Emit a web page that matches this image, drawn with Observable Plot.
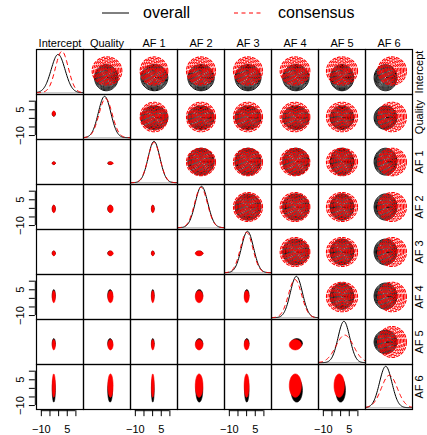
<!DOCTYPE html>
<html><head><meta charset="utf-8">
<script src="https://cdn.jsdelivr.net/npm/d3@7"></script>
<script src="https://cdn.jsdelivr.net/npm/@observablehq/plot@0.6"></script>
<style>
html,body{margin:0;padding:0;background:#fff;}
#legend{height:26px;}
#legend svg{display:block;}
#chart svg{display:block;}
</style></head><body>
<div id="legend"><svg width="427" height="26" font-family="Liberation Sans, Arial, Helvetica, sans-serif">
<line x1="102" x2="129" y1="13" y2="13" stroke="black" stroke-width="1"/>
<text x="143" y="18" font-size="16">overall</text>
<line x1="234" x2="263" y1="13" y2="13" stroke="red" stroke-width="1" stroke-dasharray="4,3.5"/>
<text x="278" y="18" font-size="16">consensus</text>
</svg></div>
<div id="chart"></div>
<script>
// ---- data ----
const vars = ["Intercept", "Quality", "AF 1", "AF 2", "AF 3", "AF 4", "AF 5", "AF 6"];
const axisTicks = [-10, -5, 0, 5, 10];
const axisLabels = [-10, 5];
const xDomain = [-12.8, 14.4];
const yDomain = [-12.3, 13.9];

// lower panels: sample clouds (centre and half-spread per variable)
const lowerCenterOverall   = [-2.8, 2.6, 0.1, -0.2, 0.1, 1.8, 0.0, -1.0];
const lowerCenterConsensus = [-2.8, 2.8, 0.1, -0.3, 0.0, 1.0, -0.8, 1.6];
const lowerSpreadOverall   = [0.9, 1.4, 0.8, 2.0, 1.3, 3.3, 2.8, 7.0];
const lowerSpreadConsensus = [0.9, 1.5, 0.8, 2.2, 1.4, 3.5, 3.0, 6.8];

// diagonal: densities (mean, sd) per variable
const densMeanOverall   = [-0.3, -0.6, 0.8, 1.1, 0.5, 1.6, 1.9, -1.1];
const densSdOverall     = [4.0, 3.6, 3.4, 3.6, 3.5, 3.5, 3.4, 3.6];
const densMeanConsensus = [1.9, 0.0, 0.8, 0.8, 0.0, 0.8, 2.4, 1.0];
const densSdConsensus   = [3.7, 3.8, 3.5, 3.7, 3.6, 3.8, 5.1, 4.6];

// upper panels: contour sets (centre and outer radius per variable)
const contourCenterOverall   = [-2.5, 0.4, 1.0, 0.8, 0.8, 1.3, 0.8, -1.2];
const contourCenterConsensus = [1.4, 0.8, 0.8, 0.8, 0.8, 0.8, 0.8, 2.6];
const contourRadiusOverall   = [7.6, 6.8, 7.8, 7.6, 7.5, 7.6, 6.8, 6.6];
const contourRadiusConsensus = [8.2, 8.6, 8.0, 8.4, 8.4, 8.6, 9.0, 8.3];
const contourLevelsOverall   = [1, 0.93, 0.86, 0.79, 0.72, 0.64, 0.56, 0.48, 0.4, 0.32, 0.24, 0.16, 0.08];
const contourLevelsConsensus = [1, 0.9, 0.8, 0.7, 0.6, 0.5, 0.4, 0.3, 0.2, 0.1];

// ---- build tables ----
const [xlo, xhi] = xDomain, [ylo, yhi] = yDomain;
const H = yhi - ylo;
const angles = d3.range(64).map(k => 2 * Math.PI * k / 64);
const ellipse = (cx, cy, rx, ry) => angles.map(a => [cx + rx * Math.cos(a), cy + ry * Math.sin(a)]);

const lowerO = [], lowerC = [], upperO = [], upperC = [], diagO = [], diagC = [], diagBase = [];
vars.forEach((rv, i) => vars.forEach((cv, j) => {
  if (i > j) {
    ellipse(lowerCenterOverall[j], lowerCenterOverall[i], lowerSpreadOverall[j], lowerSpreadOverall[i])
      .forEach(([x, y]) => lowerO.push({fx: cv, fy: rv, id: i + "-" + j, x, y}));
    ellipse(lowerCenterConsensus[j], lowerCenterConsensus[i], lowerSpreadConsensus[j], lowerSpreadConsensus[i])
      .forEach(([x, y]) => lowerC.push({fx: cv, fy: rv, id: i + "-" + j, x, y}));
  } else if (i < j) {
    contourLevelsOverall.forEach((l, k) => {
      ellipse(contourCenterOverall[j], contourCenterOverall[i], contourRadiusOverall[j] * l, contourRadiusOverall[i] * l)
        .forEach(([x, y]) => upperO.push({fx: cv, fy: rv, id: i + "-" + j + "-" + k, x, y}));
    });
    contourLevelsConsensus.forEach((l, k) => {
      ellipse(contourCenterConsensus[j], contourCenterConsensus[i], contourRadiusConsensus[j] * l, contourRadiusConsensus[i] * l)
        .forEach(([x, y]) => upperC.push({fx: cv, fy: rv, id: i + "-" + j + "-" + k, x, y}));
    });
  } else {
    const pdf = (x, m, s) => Math.exp(-0.5 * ((x - m) / s) ** 2) / (s * Math.sqrt(2 * Math.PI));
    const dmax = Math.max(pdf(0, 0, densSdOverall[i]), pdf(0, 0, densSdConsensus[i]));
    const toY = d => ylo + 0.04 * H + 0.92 * H * d / dmax;
    d3.range(xlo, xhi + 0.001, (xhi - xlo) / 90).forEach(x => {
      diagO.push({fx: cv, fy: rv, x, y: toY(pdf(x, densMeanOverall[i], densSdOverall[i]))});
      diagC.push({fx: cv, fy: rv, x, y: toY(pdf(x, densMeanConsensus[i], densSdConsensus[i]))});
    });
    diagBase.push({fx: cv, fy: rv, y: toY(0)});
  }
}));

// axes
const pxPerY = 362 / 8 / H, pxPerX = 380 / 8 / (xhi - xlo);
const yBase = ylo - 1.2 / pxPerY, tickLenY = 6 / pxPerY;
const xBase = xlo - 1.2 / pxPerX, tickLenX = 6 / pxPerX;
const bottomCols = [0, 2, 4, 6].map(j => ({fx: vars[j], fy: vars[7]}));
const leftRows = [1, 3, 5, 7].map(i => ({fx: vars[0], fy: vars[i]}));
const bottomTicks = bottomCols.flatMap(c => axisTicks.map(v => ({...c, v})));
const leftTicks = leftRows.flatMap(c => axisTicks.map(v => ({...c, v})));
const fmt = v => (v < 0 ? "\u2212" : "") + Math.abs(v);

const font = "Liberation Sans, Arial, Helvetica, sans-serif";
const chart = Plot.plot({
  width: 427, height: 409,
  marginTop: 22, marginBottom: 25, marginLeft: 34, marginRight: 13,
  style: {fontFamily: font, fontSize: "11px", background: "white", overflow: "visible"},
  fx: {domain: vars, padding: 0, axis: null},
  fy: {domain: vars, padding: 0, axis: null},
  x: {domain: xDomain, axis: null},
  y: {domain: yDomain, axis: null},
  marks: [
    // lower panels
    Plot.line(lowerO, {x: "x", y: "y", z: "id", fx: "fx", fy: "fy", curve: "linear-closed", fill: "black", stroke: "black", strokeWidth: 0.6}),
    Plot.line(lowerC, {x: "x", y: "y", z: "id", fx: "fx", fy: "fy", curve: "linear-closed", fill: "red", stroke: "red", strokeWidth: 0.6}),
    // upper panels
    Plot.line(upperO, {x: "x", y: "y", z: "id", fx: "fx", fy: "fy", curve: "linear-closed", stroke: "black", strokeWidth: 1}),
    Plot.line(upperC, {x: "x", y: "y", z: "id", fx: "fx", fy: "fy", curve: "linear-closed", stroke: "red", strokeWidth: 1.1, strokeDasharray: "3,2"}),
    // diagonal
    Plot.ruleY(diagBase, {y: "y", fx: "fx", fy: "fy", stroke: "#cccccc", strokeWidth: 1.2}),
    Plot.line(diagO, {x: "x", y: "y", fx: "fx", fy: "fy", stroke: "black", strokeWidth: 1}),
    Plot.line(diagC, {x: "x", y: "y", fx: "fx", fy: "fy", stroke: "red", strokeWidth: 1, strokeDasharray: "4,4"}),
    // frames
    Plot.frame({stroke: "black", strokeWidth: 1.2}),
    // bottom axes
    Plot.ruleY(bottomCols, {y: yBase, x1: axisTicks[0], x2: axisTicks[axisTicks.length - 1], fx: "fx", fy: "fy", stroke: "black"}),
    Plot.ruleX(bottomTicks, {x: "v", y1: yBase, y2: yBase - tickLenY, fx: "fx", fy: "fy", stroke: "black"}),
    Plot.text(bottomTicks.filter(d => axisLabels.includes(d.v)), {x: "v", y: ylo, dy: 20, fx: "fx", fy: "fy", text: d => fmt(d.v), lineAnchor: "middle", fill: "black"}),
    // left axes
    Plot.ruleX(leftRows, {x: xBase, y1: axisTicks[0], y2: axisTicks[axisTicks.length - 1], fx: "fx", fy: "fy", stroke: "black"}),
    Plot.ruleY(leftTicks, {y: "v", x1: xBase, x2: xBase - tickLenX, fx: "fx", fy: "fy", stroke: "black"}),
    Plot.text(leftTicks.filter(d => axisLabels.includes(d.v)), {x: xlo, y: "v", dx: -16, rotate: -90, fx: "fx", fy: "fy", text: d => fmt(d.v), textAnchor: "middle", lineAnchor: "middle", fill: "black"}),
    // headers
    Plot.text(vars.map(v => ({fx: v, fy: vars[0], t: v})), {fx: "fx", fy: "fy", text: "t", frameAnchor: "top", dy: -3, lineAnchor: "bottom", textAnchor: "middle", fill: "black"}),
    Plot.text(vars.map(v => ({fx: vars[7], fy: v, t: v})), {fx: "fx", fy: "fy", text: "t", frameAnchor: "right", dx: 7, rotate: -90, lineAnchor: "middle", textAnchor: "middle", fill: "black"})
  ]
});
document.getElementById("chart").appendChild(chart);
</script>
</body></html>
